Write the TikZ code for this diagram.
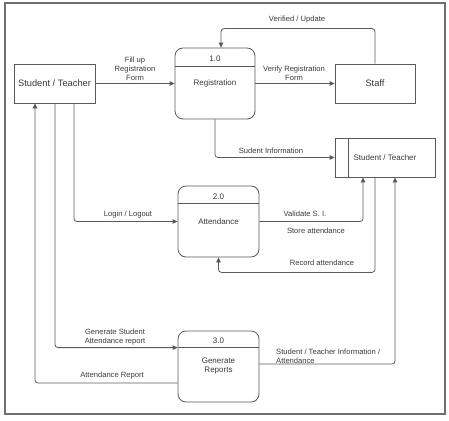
\documentclass[tikz,border=0pt]{standalone}
\usepackage{fontspec}
\setmainfont{Liberation Sans}
\usetikzlibrary{arrows.meta,calc}
\definecolor{linec}{HTML}{5A5A5A}
\definecolor{txtc}{HTML}{3A3A3A}
\definecolor{framec}{HTML}{707070}
\begin{document}
\begin{tikzpicture}[x=1pt,y=-1pt,
  lineb/.style={draw=linec, line width=0.8pt},
  flow/.style={lineb, -{Triangle[length=5pt,width=4.5pt]}, rounded corners=3pt},
  plain/.style={lineb, rounded corners=3pt},
  lab/.style={text=txtc, font=\fontsize{7.6}{9}\selectfont, inner sep=0pt, align=center},
  ptxt/.style={text=txtc, font=\fontsize{8}{9}\selectfont, inner sep=0pt, align=center},
  entity/.style={lineb, fill=white, minimum width=80pt, minimum height=39pt, inner sep=0pt, text=txtc, font=\fontsize{9.3}{11}\selectfont},
  process/.style={lineb, fill=white, rounded corners=8pt, minimum width=81pt, minimum height=71pt, inner sep=0pt},
  store/.style={lineb, fill=white, minimum width=100pt, minimum height=39pt, inner sep=0pt, text=txtc, font=\fontsize{8}{10}\selectfont}
]
\useasboundingbox (0,0) rectangle (449,420);
\draw[draw=framec, line width=1.2pt] (5,3) rectangle (445,414);

% entities
\node[entity, minimum width=81pt] (st) at (54.5,83.5) {Student / Teacher};
\node[entity] (staff) at (375,83.5) {Staff};

% processes
\node[process, minimum width=80pt] (p1) at (215,83.5) {};
\draw[lineb] ([yshift=-19pt]p1.north west) -- ([yshift=-19pt]p1.north east);
\node[ptxt] (p1n) at (215,59) {1.0};
\node[ptxt] (p1t) at (215,83) {Registration};

\node[process] (p2) at (218.5,221.5) {};
\draw[lineb] ([yshift=-18pt]p2.north west) -- ([yshift=-18pt]p2.north east);
\node[ptxt] (p2n) at (218.5,197) {2.0};
\node[ptxt] (p2t) at (218.5,222) {Attendance};

\node[process] (p3) at (218.5,366.5) {};
\draw[lineb] ([yshift=-17pt]p3.north west) -- ([yshift=-17pt]p3.north east);
\node[ptxt] (p3n) at (218.5,341) {3.0};
\node[ptxt] (p3t) at (218.5,366.5) {Generate\\Reports};

% data store
\node[store] (ds) at (385,157.5) {Student / Teacher};
\draw[lineb] ([xshift=14pt]ds.north west) -- ([xshift=14pt]ds.south west);

% flows
\draw[flow] (st.east) -- (p1.west);
\draw[flow] (p1.east) -- (staff.west);
\draw[flow] (staff.north) -- ++(0,-35) -| ([xshift=6pt]p1.north);
\draw[flow] (p1.south) |- (ds.west);
\draw[flow] ([xshift=19.5pt]st.south) |- (p2.west);
\draw[flow] (p2.east) -| ([xshift=-22pt]ds.south);
\draw[flow] ([xshift=-10pt]ds.south) -- ++(0,95) -| (p2.south);
\draw[flow] ([yshift=2.5pt]p3.east) -| ([xshift=10pt]ds.south);
\draw[flow] ([xshift=0.5pt]st.south) |- ([yshift=-17pt]p3.north west);
\draw[flow] ([yshift=-16.5pt]p3.west) -| ([xshift=-19.5pt]st.south);

% labels
\node[lab] (l1) at (135,69) {Fill up\\Registration\\Form};
\node[lab] (l2) at (294,73.5) {Verify Registration\\Form};
\node[lab] (l3) at (297,20) {Verified / Update};
\node[lab] (l4) at (271,151) {Sudent Information};
\node[lab] (l5) at (128,215) {Login / Logout};
\node[lab] (l6) at (305,214) {Validate S. I.};
\node[lab] (l7) at (316,231) {Store attendance};
\node[lab] (l8) at (322,263) {Record attendance};
\node[lab, align=left, anchor=west] (l9) at (276,356.5) {Student / Teacher Information /\\Attendance};
\node[lab] (l10) at (115,337) {Generate Student\\Attendance report};
\node[lab] (l11) at (112,376) {Attendance Report};
\end{tikzpicture}
\end{document}
